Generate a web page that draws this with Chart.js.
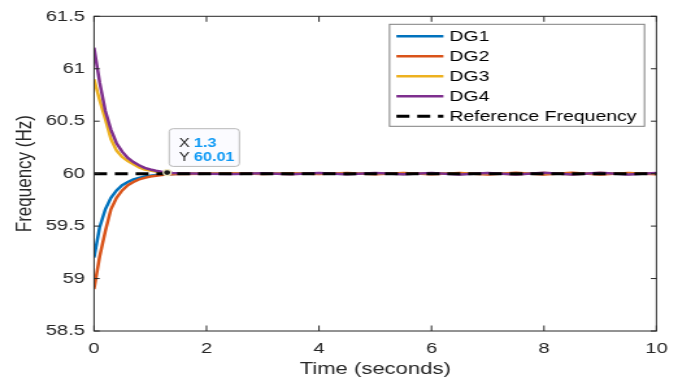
<!DOCTYPE html>
<html>
<head>
<meta charset="utf-8">
<title>DG Frequency</title>
<script src="https://cdn.jsdelivr.net/npm/chart.js@4.4.1/dist/chart.umd.min.js"></script>
<style>
    html, body { margin: 0; padding: 0; background: #ffffff; overflow: hidden; }
    /* the reference figure is stretched sideways, so the chart is too */
    #wrap {
        position: relative;
        width: 522px;
        height: 385px;
        transform: scaleX(1.2989);
        transform-origin: 0 0;
    }
</style>
</head>
<body>
<div id="wrap"><canvas id="freqChart"></canvas></div>
<script>
// ==========================================
// DATA
// ==========================================

const timeValues = [
    0, 0.1, 0.2, 0.3, 0.4, 0.5, 0.6, 0.7, 0.8, 0.9, 1.0, 1.1, 1.2, 1.3, 1.4, 1.5,
    2, 2.5, 3, 3.5, 4, 4.5, 5, 5.5, 6, 6.5, 7, 7.5, 8, 8.5, 9, 9.5, 10
];

const dg1Values = [
    59.20, 59.49, 59.66, 59.77, 59.84, 59.89, 59.92, 59.945, 59.96, 59.972, 59.98, 59.987, 59.992, 59.995, 59.997, 59.998,
    60.000, 59.998, 60.002, 59.998, 60.002, 59.997, 60.003, 59.997, 60.003, 59.996, 60.004, 59.996, 60.004, 59.996, 60.004, 59.997, 60.002
];

const dg2Values = [
    58.90, 59.21, 59.45, 59.66, 59.77, 59.84, 59.89, 59.92, 59.945, 59.96, 59.972, 59.98, 59.987, 59.992, 59.995, 59.997,
    59.999, 60.003, 59.997, 60.004, 59.996, 60.005, 59.995, 60.006, 59.994, 60.007, 59.993, 60.008, 59.992, 60.008, 59.992, 60.007, 59.994
];

const dg3Values = [
    60.90, 60.70, 60.52, 60.33, 60.22, 60.16, 60.12, 60.09, 60.06, 60.04, 60.03, 60.02, 60.012, 60.008, 60.005, 60.003,
    60.001, 59.998, 60.002, 59.997, 60.003, 59.997, 60.003, 59.996, 60.004, 59.996, 60.004, 59.995, 60.005, 59.995, 60.005, 59.996, 60.003
];

const dg4Values = [
    61.20, 60.87, 60.60, 60.42, 60.29, 60.21, 60.15, 60.11, 60.08, 60.055, 60.04, 60.028, 60.018, 60.01, 60.006, 60.004,
    60.000, 59.997, 60.004, 59.995, 60.005, 59.994, 60.006, 59.994, 60.007, 59.993, 60.007, 59.992, 60.008, 59.992, 60.008, 59.993, 60.006
];

const refTime = [0, 10];
const refValues = [60, 60];

const seriesNames = ['DG1', 'DG2', 'DG3', 'DG4', 'Reference Frequency'];

const xTicks = [0, 2, 4, 6, 8, 10];
const yTicks = [58.5, 59, 59.5, 60, 60.5, 61, 61.5];

// data tip shown on the plot
const dataTip = [1.3, 60.01];

// ==========================================
// HELPERS
// ==========================================

const FONT = "'Liberation Sans', Arial, Helvetica, sans-serif";
const axisColor = '#262626';

function toPoints(xs, ys) {
    return xs.map((x, i) => ({ x: x, y: ys[i] }));
}

// MATLAB-like box, inward ticks, legend and data tip
const matlabAxes = {
    id: 'matlabAxes',

    beforeDraw(chart) {
        const ctx = chart.ctx;
        ctx.save();
        ctx.fillStyle = '#ffffff';
        ctx.fillRect(0, 0, chart.width, chart.height);
        ctx.restore();
    },

    afterDatasetsDraw(chart) {
        const { ctx, chartArea: a, scales } = chart;
        ctx.save();

        // axes box + ticks
        ctx.strokeStyle = axisColor;
        ctx.lineWidth = 1;
        ctx.strokeRect(a.left, a.top, a.right - a.left, a.bottom - a.top);

        ctx.beginPath();
        xTicks.forEach(v => {
            const px = scales.x.getPixelForValue(v);
            ctx.moveTo(px, a.bottom);
            ctx.lineTo(px, a.bottom - 5.5);
            ctx.moveTo(px, a.top);
            ctx.lineTo(px, a.top + 5.5);
        });
        yTicks.forEach(v => {
            const py = scales.y.getPixelForValue(v);
            ctx.moveTo(a.left, py);
            ctx.lineTo(a.left + 4.3, py);
            ctx.moveTo(a.right, py);
            ctx.lineTo(a.right - 4.3, py);
        });
        ctx.stroke();

        // legend
        const lx = a.right - 205.5;
        const ly = a.top + 8;
        const lw = 196.3;
        const lh = 102;

        ctx.fillStyle = '#ffffff';
        ctx.fillRect(lx, ly, lw, lh);
        ctx.strokeStyle = '#7f7f7f';
        ctx.lineWidth = 1;
        ctx.strokeRect(lx, ly, lw, lh);

        chart.data.datasets.forEach((ds, i) => {
            const ry = ly + 12 + i * 20;

            ctx.strokeStyle = ds.borderColor;
            ctx.lineWidth = ds.borderWidth;
            ctx.setLineDash(ds.borderDash || []);
            ctx.beginPath();
            ctx.moveTo(lx + 5.3, ry);
            ctx.lineTo(lx + 41.5, ry);
            ctx.stroke();
            ctx.setLineDash([]);

            ctx.fillStyle = '#000000';
            ctx.font = `15px ${FONT}`;
            ctx.textAlign = 'left';
            ctx.textBaseline = 'middle';
            ctx.fillText(ds.label, lx + 46, ry + 0.5);
        });

        // data tip
        const px = scales.x.getPixelForValue(dataTip[0]);
        const py = scales.y.getPixelForValue(dataTip[1]);
        const bx = px + 1.6;
        const by = py - 43.9;

        ctx.beginPath();
        ctx.roundRect(bx, by, 54, 37.7, 3);
        ctx.fillStyle = '#fbfbff';
        ctx.fill();
        ctx.strokeStyle = '#b8b8b8';
        ctx.lineWidth = 1;
        ctx.stroke();

        ctx.textBaseline = 'middle';
        ctx.fillStyle = axisColor;
        ctx.font = `12.5px ${FONT}`;
        ctx.fillText('X', bx + 7.5, py - 28.7);
        ctx.fillText('Y', bx + 7.5, py - 15.2);

        ctx.fillStyle = '#0f9af5';
        ctx.font = `bold 12.5px ${FONT}`;
        ctx.fillText(String(dataTip[0]), bx + 19, py - 28.7);
        ctx.fillText(dataTip[1].toFixed(2), bx + 19, py - 15.2);

        ctx.beginPath();
        ctx.arc(px, py, 3, 0, Math.PI * 2);
        ctx.fillStyle = '#1a1a1a';
        ctx.fill();
        ctx.strokeStyle = '#f3ecc4';
        ctx.lineWidth = 1.2;
        ctx.stroke();

        ctx.restore();
    }
};

// ==========================================
// CHART
// ==========================================

const lineStyle = {
    borderWidth: 2.5,
    pointRadius: 0,
    tension: 0,
    fill: false
};

new Chart(document.getElementById('freqChart'), {

    type: 'line',

    data: {
        datasets: [
            { ...lineStyle, label: seriesNames[0], data: toPoints(timeValues, dg1Values), borderColor: '#0072BD', order: 4 },
            { ...lineStyle, label: seriesNames[1], data: toPoints(timeValues, dg2Values), borderColor: '#D95319', order: 3 },
            { ...lineStyle, label: seriesNames[2], data: toPoints(timeValues, dg3Values), borderColor: '#EDB120', order: 2 },
            { ...lineStyle, label: seriesNames[3], data: toPoints(timeValues, dg4Values), borderColor: '#7E2F8E', order: 1 },
            {
                ...lineStyle,
                label: seriesNames[4],
                data: toPoints(refTime, refValues),
                borderColor: '#000000',
                borderWidth: 3,
                borderDash: [10, 6],
                order: 0
            }
        ]
    },

    options: {

        responsive: true,
        maintainAspectRatio: false,
        animation: false,
        events: [],

        layout: {
            padding: { left: 0, right: 16.2, top: 15, bottom: 0 }
        },

        plugins: {
            legend: { display: false },
            tooltip: { enabled: false }
        },

        scales: {

            x: {
                type: 'linear',
                min: 0,
                max: 10,
                afterBuildTicks: s => { s.ticks = xTicks.map(v => ({ value: v })); },
                afterFit: s => { s.height = 54; },
                grid: { display: false, drawTicks: false },
                border: { display: false },
                ticks: {
                    color: axisColor,
                    font: { family: FONT, size: 15.5 },
                    padding: 8,
                    maxRotation: 0,
                    autoSkip: false,
                    callback: v => String(v)
                },
                title: {
                    display: true,
                    text: 'Time (seconds)',
                    color: axisColor,
                    font: { family: FONT, size: 17 },
                    padding: { top: 0, bottom: 5 }
                }
            },

            y: {
                type: 'linear',
                min: 58.5,
                max: 61.5,
                afterBuildTicks: s => { s.ticks = yTicks.map(v => ({ value: v })); },
                afterFit: s => { s.width = 72.4; },
                grid: { display: false, drawTicks: false },
                border: { display: false },
                ticks: {
                    color: axisColor,
                    font: { family: FONT, size: 15.5 },
                    padding: 7,
                    autoSkip: false,
                    callback: v => String(v)
                },
                title: {
                    display: true,
                    text: 'Frequency (Hz)',
                    color: axisColor,
                    font: { family: FONT, size: 17 },
                    padding: { top: 9, bottom: 0 }
                }
            }
        }
    },

    plugins: [matlabAxes]
});
</script>
</body>
</html>
